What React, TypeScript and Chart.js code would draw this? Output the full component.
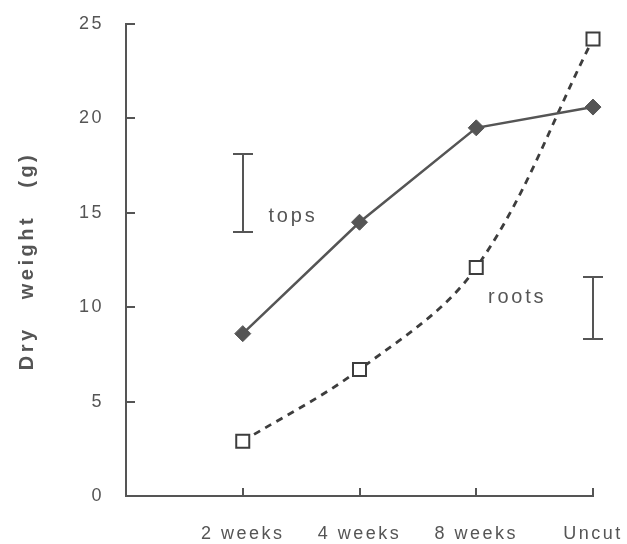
import React, { useEffect, useRef } from 'react';
import { Chart, registerables } from 'chart.js';

Chart.register(...registerables);

const categories = ['2 weeks', '4 weeks', '8 weeks', 'Uncut'];
const topsValues = [8.6, 14.5, 19.5, 20.6];
const rootsValues = [2.9, 6.7, 12.1, 24.2];
const yTicks = [0, 5, 10, 15, 20, 25];
const yTitle = 'Dry   weight   (g)';

const errorBarLabels = ['tops', 'roots'];
const errorBarX = [0, 3];
const errorBarLow = [14.0, 8.3];
const errorBarHigh = [18.1, 11.6];
const labelX = [0.22, 2.1];
const labelY = [14.8, 10.5];

const TEXT = '#555';
const DARK = '#3d3d3d';
const FONT = "'Liberation Sans', Arial, sans-serif";

const decor = {
  id: 'decor',
  beforeDraw(chart: any) {
    chart.ctx.letterSpacing = '2.5px';
  },
  afterDraw(chart: any) {
    const { ctx, chartArea, scales } = chart;
    const x = scales.x;
    const y = scales.y;
    ctx.save();
    ctx.strokeStyle = TEXT;
    ctx.lineWidth = 2;
    ctx.beginPath();
    yTicks.forEach((v) => {
      if (v === 0) return;
      const py = Math.round(y.getPixelForValue(v));
      ctx.moveTo(chartArea.left, py);
      ctx.lineTo(chartArea.left + 9, py);
    });
    categories.forEach((_, i) => {
      const px = Math.round(x.getPixelForValue(i));
      ctx.moveTo(px, chartArea.bottom);
      ctx.lineTo(px, chartArea.bottom - 8);
    });
    ctx.stroke();

    errorBarX.forEach((xv, i) => {
      const px = Math.round(x.getPixelForValue(xv));
      const y1 = Math.round(y.getPixelForValue(errorBarLow[i]));
      const y2 = Math.round(y.getPixelForValue(errorBarHigh[i]));
      ctx.beginPath();
      ctx.moveTo(px, y1);
      ctx.lineTo(px, y2);
      ctx.moveTo(px - 10, y1);
      ctx.lineTo(px + 10, y1);
      ctx.moveTo(px - 10, y2);
      ctx.lineTo(px + 10, y2);
      ctx.stroke();
    });

    ctx.font = `20px ${FONT}`;
    ctx.fillStyle = TEXT;
    ctx.textAlign = 'left';
    ctx.textBaseline = 'middle';
    ctx.letterSpacing = '2.8px';
    errorBarLabels.forEach((t, i) => {
      ctx.fillText(t, x.getPixelForValue(labelX[i]), y.getPixelForValue(labelY[i]));
    });

    // y-axis title
    ctx.save();
    ctx.translate(27, (chartArea.top + chartArea.bottom) / 2 + 1);
    ctx.rotate(-Math.PI / 2);
    ctx.font = `bold 20px ${FONT}`;
    ctx.letterSpacing = '3.5px';
    ctx.textAlign = 'center';
    ctx.textBaseline = 'middle';
    ctx.fillText(yTitle, 0, 0);
    ctx.restore();

    ctx.restore();
  },
};

export default function App() {
  const ref = useRef<HTMLCanvasElement>(null);
  useEffect(() => {
    const chart = new Chart(ref.current as HTMLCanvasElement, {
      type: 'line',
      data: {
        datasets: [
          {
            label: 'tops',
            data: categories.map((_, i) => ({ x: i, y: topsValues[i] })),
            borderColor: TEXT,
            borderWidth: 2.5,
            tension: 0,
            pointStyle: 'rectRot',
            pointRadius: 8,
            pointBackgroundColor: TEXT,
            pointBorderColor: TEXT,
            pointBorderWidth: 1,
            clip: false,
          },
          {
            label: 'roots',
            data: categories.map((_, i) => ({ x: i, y: rootsValues[i] })),
            borderColor: DARK,
            borderWidth: 2.8,
            borderDash: [7, 6],
            tension: 0.35,
            pointStyle: 'rect',
            pointRadius: 9.2,
            pointBackgroundColor: '#fff',
            pointBorderColor: DARK,
            pointBorderWidth: 2,
            clip: false,
          },
        ],
      },
      options: {
        responsive: false,
        animation: false,
        layout: { padding: { top: 24, right: 34, left: 0, bottom: 0 } },
        plugins: { legend: { display: false }, tooltip: { enabled: false } },
        scales: {
          x: {
            type: 'linear',
            min: -1,
            max: 3,
            afterBuildTicks: (s: any) => {
              s.ticks = categories.map((_, i) => ({ value: i }));
            },
            afterFit: (s: any) => {
              s.height = 48;
              s.paddingLeft = 0;
              s.paddingRight = 0;
            },
            grid: { display: false, drawTicks: false },
            border: { display: true, color: TEXT, width: 2 },
            ticks: {
              autoSkip: false,
              maxRotation: 0,
              color: TEXT,
              font: { size: 18, family: FONT },
              padding: 27,
              callback: (v: any) => categories[v] ?? '',
            },
          },
          y: {
            type: 'linear',
            min: 0,
            max: 25,
            afterBuildTicks: (s: any) => {
              s.ticks = yTicks.map((v) => ({ value: v }));
            },
            afterFit: (s: any) => {
              s.width = 126;
              s.paddingTop = 0;
              s.paddingBottom = 0;
            },
            grid: { display: false, drawTicks: false },
            border: { display: true, color: TEXT, width: 2 },
            ticks: {
              color: TEXT,
              font: { size: 18, family: FONT },
              padding: 22,
            },
            title: { display: false },
          },
        },
      },
      plugins: [decor],
    } as any);
    return () => chart.destroy();
  }, []);
  return (
    <div style={{ position: 'absolute', left: 0, top: 0, width: 627, height: 544, background: '#fff' }}>
      <canvas ref={ref} width={627} height={544} style={{ display: 'block' }} />
    </div>
  );
}
